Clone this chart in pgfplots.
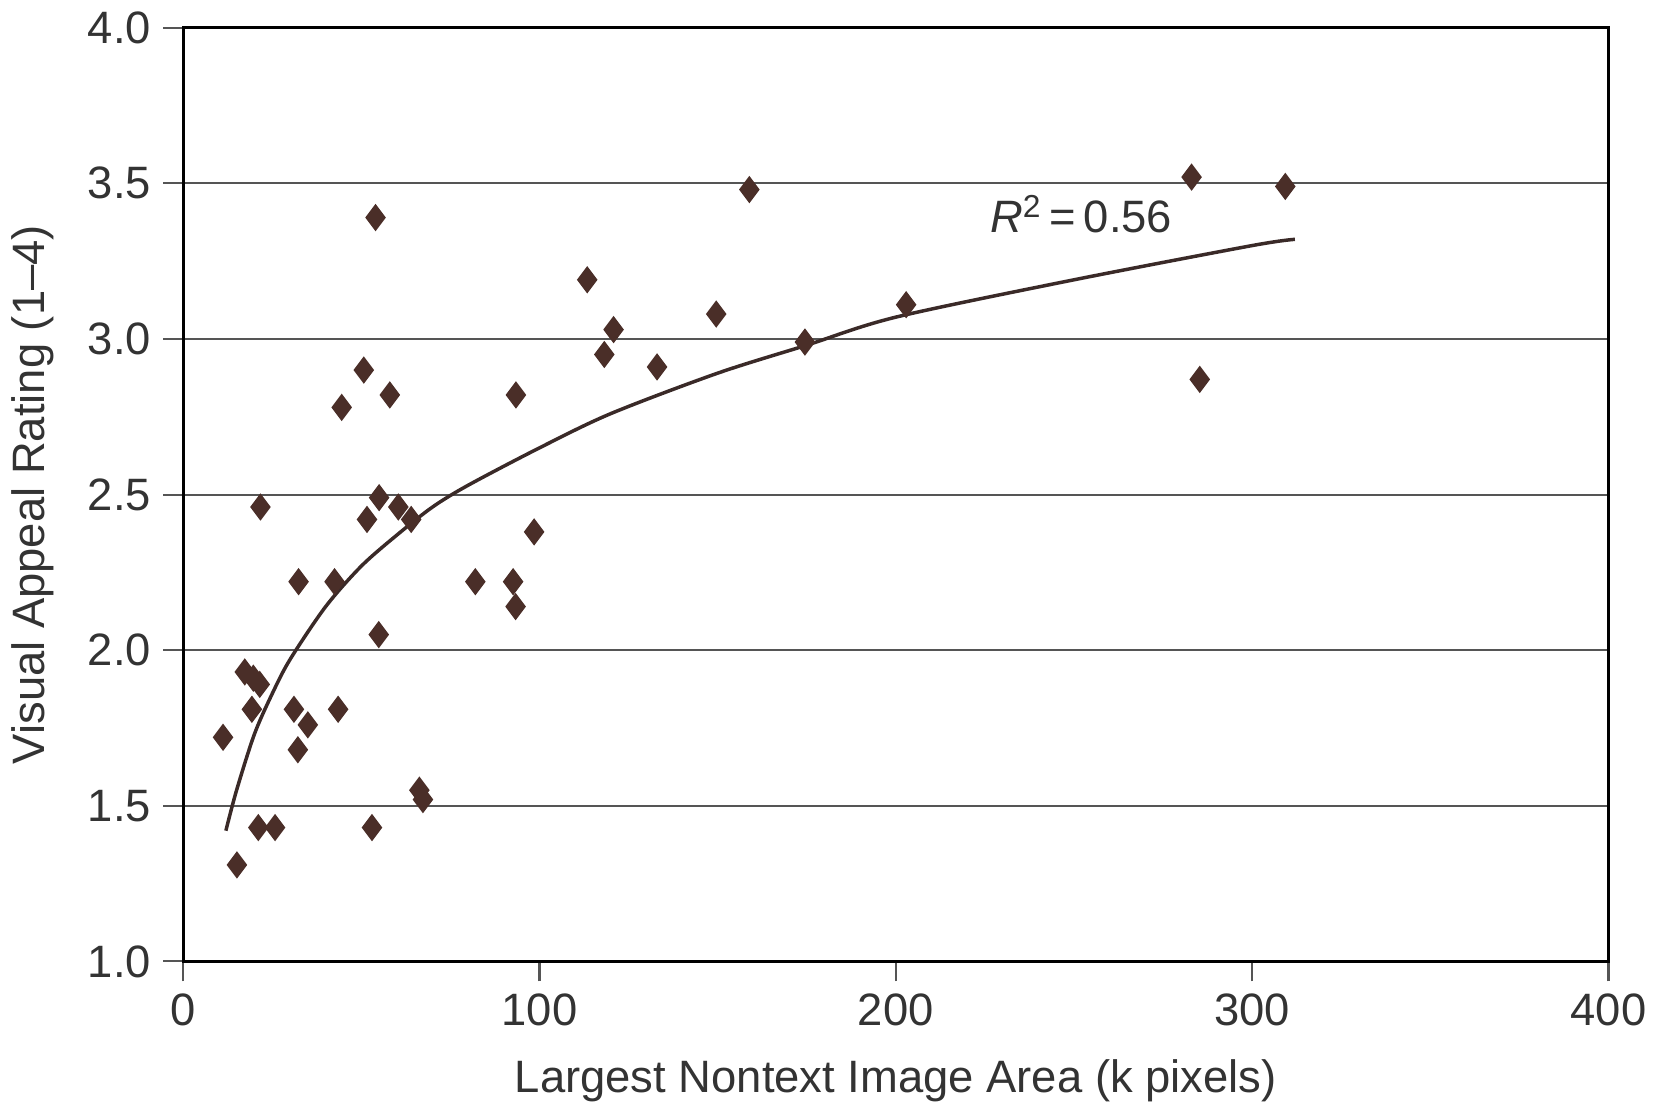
\documentclass[border=0pt]{standalone}
\usepackage{pgfplots}
\pgfplotsset{compat=1.18}
\usepackage{fontspec}
\setmainfont{Liberation Sans}
\definecolor{mk}{HTML}{4A2E28}
\definecolor{ln}{HTML}{3A2A28}
\definecolor{gr}{HTML}{555555}
\begin{document}
\begin{tikzpicture}
\begin{axis}[
  scale only axis,
  width=143.5mm, height=94mm,
  xmin=0, xmax=400, ymin=1, ymax=4,
  xtick={0,100,...,400},
  ytick={1,1.5,...,4},
  yticklabel style={/pgf/number format/.cd,fixed,fixed zerofill,precision=1},
  /pgf/number format/assume math mode=true,
  ymajorgrids,
  grid style={gr, line width=0.6pt},
  axis line style={black, line width=0.8pt},
  tick style={gr, line width=0.6pt},
  tick align=outside,
  major tick length=2mm,
  xtick pos=bottom, ytick pos=left,
  ticklabel style={font=\fontsize{13}{15}\selectfont, text=black!80},
  label style={font=\fontsize{13}{15}\selectfont, text=black!80},
  xlabel={Largest Nontext Image Area (k pixels)},
  ylabel={Visual Appeal Rating (1--4)},
  xlabel style={yshift=-1mm},
  ylabel style={yshift=1mm},
]
\addplot[only marks, mark=diamond*, mark size=3.6pt, mk, mark options={fill=mk, draw=mk}] coordinates {
(11.2,1.72) (15.1,1.31) (17.3,1.93) (19.7,1.91) (21.5,1.89) (19.3,1.81)
(21.1,1.43) (25.8,1.43) (21.7,2.46) (32.4,2.22) (31.1,1.81) (32.2,1.68)
(35,1.76) (42.5,2.22) (43.5,1.81) (44.5,2.78) (50.7,2.90) (51.6,2.42)
(53,1.43) (54,3.39) (55,2.49) (54.9,2.05) (58,2.82) (60.4,2.46)
(64,2.42) (66.3,1.55) (67.3,1.52) (82,2.22) (92.6,2.22) (93.3,2.14)
(93.4,2.82) (98.5,2.38) (113.4,3.19) (118.2,2.95) (120.8,3.03) (133,2.91)
(149.6,3.08) (158.9,3.48) (174.5,2.99) (202.9,3.11) (283,3.52) (285.3,2.87)
(309.3,3.49)
};
\addplot[ln, line width=1pt, smooth] coordinates {
(12,1.42) (15,1.55) (20,1.73) (25,1.86) (30,1.97) (40,2.14) (50,2.27)
(60,2.37) (70,2.46) (80,2.53) (100,2.65) (120,2.76) (150,2.89) (175,2.98)
(200,3.07) (250,3.19) (300,3.30) (312,3.32)
};
\node[anchor=south west, font=\fontsize{13}{15}\selectfont, text=black!80] at (axis cs:223,3.3) {\textit{R}\textsuperscript{2}\,=\,0.56};
\end{axis}
\end{tikzpicture}
\end{document}
